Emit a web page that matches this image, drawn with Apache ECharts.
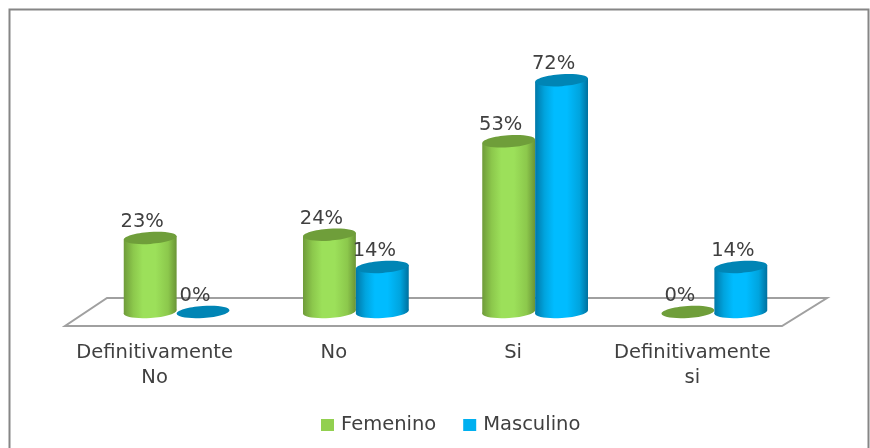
<!DOCTYPE html>
<html>
<head>
<meta charset="utf-8">
<style>html,body{margin:0;padding:0;background:#fff}#c{width:870px;height:448px}</style>
<script src="https://cdn.jsdelivr.net/npm/echarts@6/dist/echarts.min.js"></script>
</head>
<body>
<div id="c"></div>
<script>
var categories = ['Definitivamente\nNo', 'No', 'Si', 'Definitivamente\nsi'];
var femenino = [23, 24, 53, 0];
var masculino = [0, 14, 72, 14];

var FONT = '"DejaVu Sans", sans-serif';
var TEXT = '#404040';
var DEPTH_DX = 22;

function cylinder(side, edgeL, mid, edgeR, topColor) {
  return function (params, api) {
    var idx = api.value(0), val = api.value(1);
    var top = api.coord([idx, val]);
    var base = api.coord([idx, 0]);
    var band = api.size([1, 0])[0];
    var w = band * 0.295;
    var rx = w / 2, ry = 6;
    var cx = top[0] + DEPTH_DX + side * w / 2;
    var rot = 0.07;
    var tilt = rx * Math.sin(rot);
    var fill = {
      type: 'linear', x: 0, y: 0, x2: 1, y2: 0,
      colorStops: [
        { offset: 0, color: edgeL }, { offset: 0.18, color: mid[0] },
        { offset: 0.36, color: mid[1] }, { offset: 0.6, color: mid[1] },
        { offset: 0.84, color: mid[0] }, { offset: 1, color: edgeR }
      ]
    };
    var children = [];
    if (val > 0) {
      children.push({
        type: 'ellipse', shape: { cx: cx, cy: base[1], rx: rx, ry: ry },
        rotation: rot, originX: cx, originY: base[1], style: { fill: fill }
      });
      children.push({
        type: 'polygon',
        shape: { points: [
          [cx - rx, top[1] + tilt], [cx + rx, top[1] - tilt],
          [cx + rx, base[1] - tilt], [cx - rx, base[1] + tilt]
        ] },
        style: { fill: fill }
      });
    }
    children.push({
      type: 'ellipse', shape: { cx: cx, cy: top[1], rx: rx, ry: ry },
      rotation: rot, originX: cx, originY: top[1], style: { fill: topColor }
    });
    children.push({
      type: 'text', z2: 50,
      style: {
        x: cx - 8, y: top[1] - 16, text: val + '%', align: 'center', verticalAlign: 'middle',
        font: '19.5px ' + FONT, fill: TEXT
      }
    });
    return { type: 'group', children: children };
  };
}

var chart = echarts.init(document.getElementById('c'), null, { renderer: 'canvas' });
chart.setOption({
  animation: false,
  backgroundColor: '#ffffff',
  grid: { left: 65, width: 717, top: 54.4, height: 257.6 },
  xAxis: {
    type: 'category', data: categories,
    axisLine: { show: false }, axisTick: { show: false }, splitLine: { show: false },
    axisLabel: { color: TEXT, fontFamily: FONT, fontSize: 19.5, lineHeight: 25, margin: 28, interval: 0 }
  },
  yAxis: { type: 'value', min: 0, max: 80, show: false },
  legend: {
    left: 316, top: 410, icon: 'rect', itemWidth: 13, itemHeight: 12, itemGap: 27,
    selectedMode: false,
    textStyle: { color: TEXT, fontFamily: FONT, fontSize: 19.5, padding: [0, 0, 0, 2] },
    data: ['Femenino', 'Masculino']
  },
  graphic: [
    { type: 'polyline', z: -1, shape: { points: [[9.5, 448], [9.5, 9.5], [868.5, 9.5], [868.5, 448]] },
      style: { stroke: '#868686', lineWidth: 2, fill: null } },
    { type: 'polygon', z: -1, shape: { points: [[107, 298], [827, 298], [782, 326], [65, 326]] },
      style: { stroke: '#a0a0a0', lineWidth: 2, fill: '#ffffff' } }
  ],
  series: [
    { name: 'Femenino', type: 'custom', itemStyle: { color: '#92d050' },
      renderItem: cylinder(-1, '#6f9b3a', ['#8cc84c', '#9ce05a'], '#6a9436', '#6f9e3a'),
      encode: { x: 0, y: 1 },
      data: femenino.map(function (v, i) { return [i, v]; }) },
    { name: 'Masculino', type: 'custom', itemStyle: { color: '#00b0f0' },
      renderItem: cylinder(1, '#0078a8', ['#00a4de', '#00bcff'], '#00709e', '#0085b5'),
      encode: { x: 0, y: 1 },
      data: masculino.map(function (v, i) { return [i, v]; }) }
  ]
});
</script>
</body>
</html>
